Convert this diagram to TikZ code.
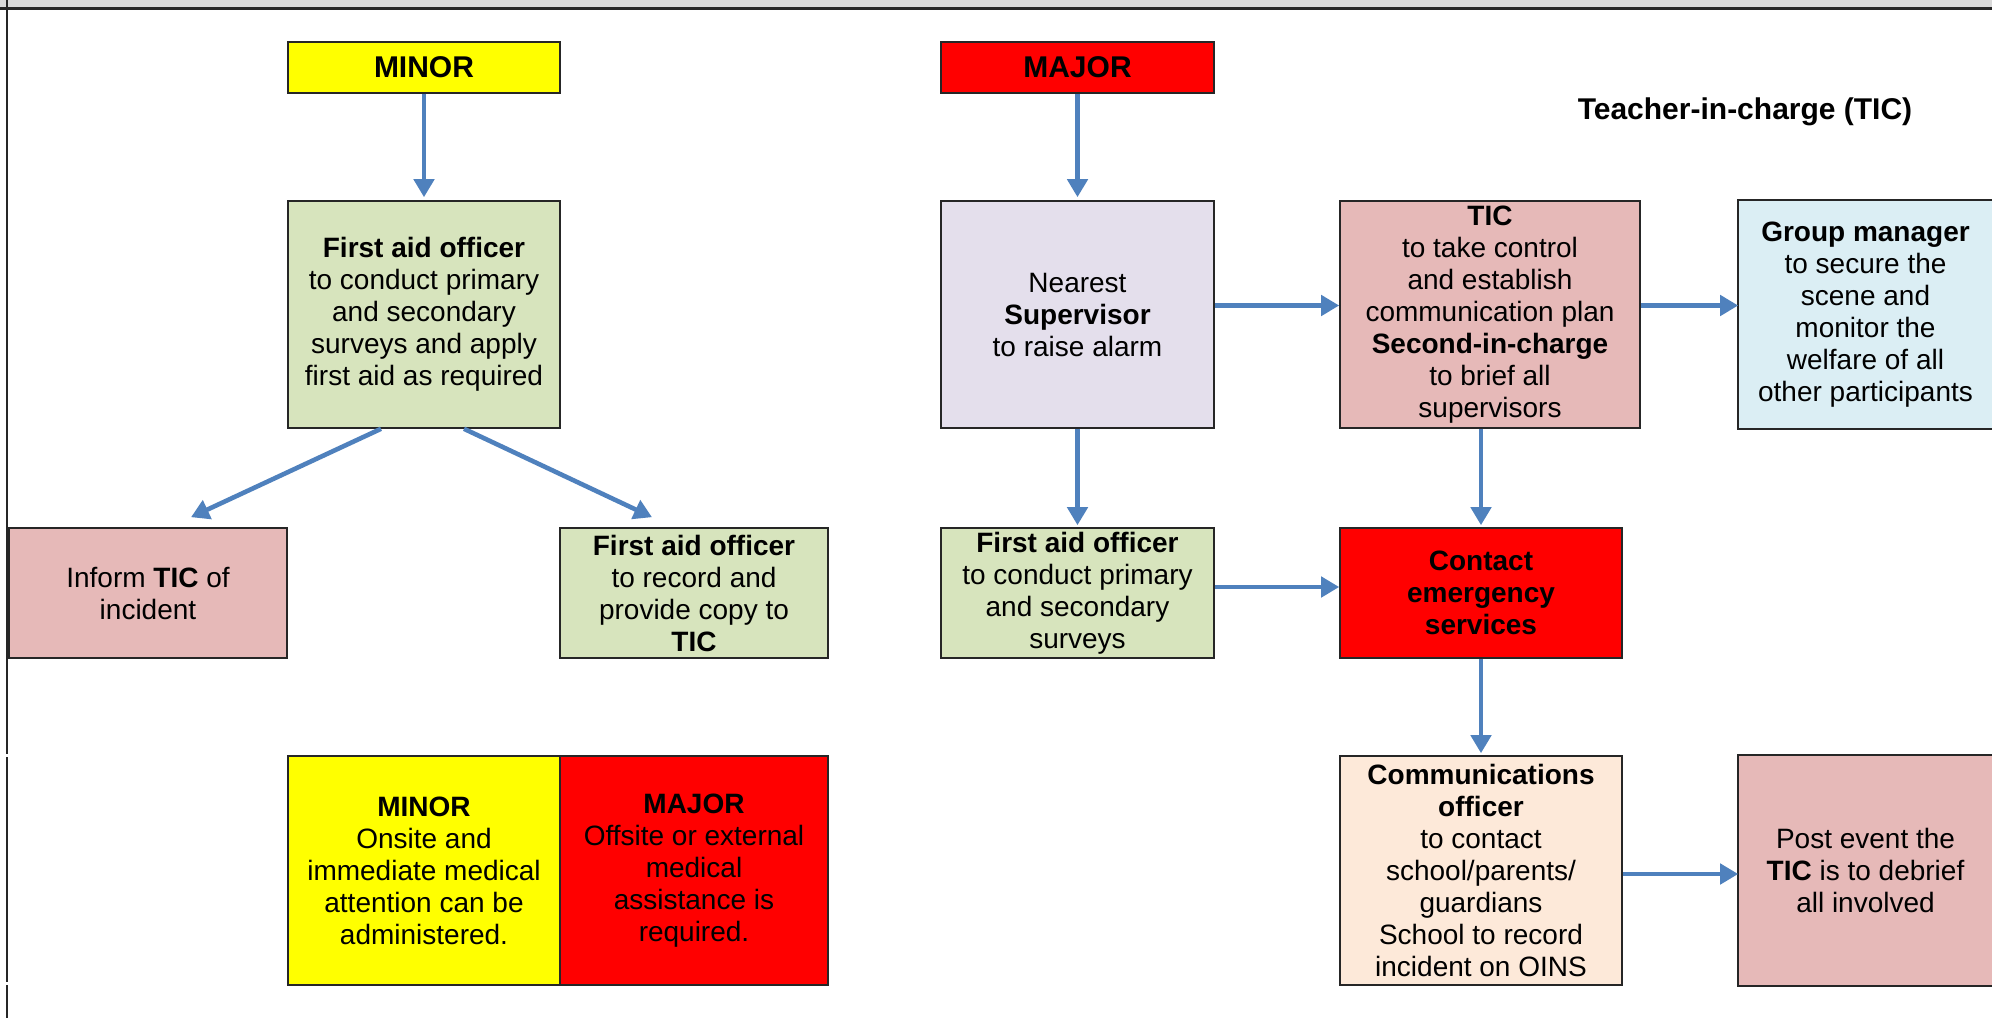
\documentclass[tikz,border=0pt]{standalone}
\usepackage{fontspec}
\setmainfont{Liberation Sans}
\usetikzlibrary{arrows.meta}
\definecolor{cyellow}{HTML}{FFFF00}
\definecolor{cred}{HTML}{FF0000}
\definecolor{cgreen}{HTML}{D7E4BD}
\definecolor{clav}{HTML}{E4DFEC}
\definecolor{cpink}{HTML}{E6B9B8}
\definecolor{cblue}{HTML}{DBEEF4}
\definecolor{cpeach}{HTML}{FDE9D9}
\definecolor{arrowblue}{HTML}{4F81BD}
\definecolor{stripgray}{HTML}{D9D9D9}
\definecolor{edge}{HTML}{262626}
\begin{document}
\begin{tikzpicture}[x=1pt,y=-1pt,
  box/.style={draw=edge, line width=1.6pt, align=center, inner sep=0pt,
    font=\fontsize{28}{32}\selectfont, text=black},
  boxnd/.style={box, draw=none},
  head/.style={font=\bfseries\fontsize{30}{34}\selectfont},
  arr/.style={draw=arrowblue, line width=4.6pt, -{Triangle[length=18pt,width=20pt]}},
  frameline/.style={draw=edge, line width=2pt}
]
\useasboundingbox (0,0) rectangle (1992,1018);
\fill[white] (0,0) rectangle (1992,1018);
% top strip and frame
\fill[stripgray] (0,0) rectangle (1992,7);
\fill[edge] (0,7) rectangle (1992,10);
\draw[frameline] (7,0) -- (7,754);
\draw[frameline] (7,757) -- (7,982);
\draw[frameline] (7,985) -- (7,1018);

% headers
\node[box, head, fill=cyellow, minimum width=272, minimum height=51] (minor) at (424,67.5) {MINOR};
\node[box, head, fill=cred, minimum width=273, minimum height=51] (major) at (1077.5,67.5) {MAJOR};
\node[font=\bfseries\fontsize{30}{34}\selectfont, inner sep=0pt] (title) at (1745,112) {Teacher-in-charge (TIC)};

% row 1
\node[box, fill=cgreen, minimum width=272, minimum height=227] (fa1) at (424,314.5)
  {\textbf{First aid officer}\\to conduct primary\\and secondary\\surveys and apply\\first aid as required};
\node[box, fill=clav, minimum width=273, minimum height=227] (sup) at (1077.5,314.5)
  {Nearest\\\textbf{Supervisor}\\to raise alarm};
\node[box, fill=cpink, minimum width=300, minimum height=227] (tic) at (1490,314.5)
  {\textbf{TIC}\\to take control\\and establish\\communication plan\\\textbf{Second-in-charge}\\to brief all\\supervisors};
\node[boxnd, fill=cblue, minimum width=253, minimum height=227] (grp) at (1865.5,314.5)
  {\textbf{Group manager}\\to secure the\\scene and\\monitor the\\welfare of all\\other participants};
\draw[draw=edge, line width=1.6pt] (grp.north east) -- (grp.north west) -- (grp.south west) -- (grp.south east);

% row 2
\node[box, fill=cpink, minimum width=278, minimum height=130] (inform) at (148,593)
  {Inform \textbf{TIC} of\\incident};
\node[box, fill=cgreen, minimum width=268, minimum height=130] (rec) at (694,593)
  {\textbf{First aid officer}\\to record and\\provide copy to\\\textbf{TIC}};
\node[box, fill=cgreen, minimum width=273, minimum height=130] (fa2) at (1077.5,593)
  {\textbf{First aid officer}\\to conduct primary\\and secondary\\surveys};
\node[box, fill=cred, minimum width=282, minimum height=130] (cont) at (1481,593)
  {\textbf{Contact}\\\textbf{emergency}\\\textbf{services}};

% row 3
\node[box, fill=cyellow, minimum width=272, minimum height=229] (legminor) at (424,870.5)
  {\textbf{MINOR}\\Onsite and\\immediate medical\\attention can be\\administered.};
\node[box, fill=cred, minimum width=268, minimum height=229] (legmajor) at (694,870.5)
  {\textbf{MAJOR}\\Offsite or external\\medical\\assistance is\\required.};
\node[box, fill=cpeach, minimum width=282, minimum height=229] (comm) at (1481,870.5)
  {\textbf{Communications}\\\textbf{officer}\\to contact\\school/parents/\\guardians\\School to record\\incident on OINS};
\node[boxnd, fill=cpink, minimum width=253, minimum height=229] (post) at (1865.5,870.5)
  {Post event the\\\textbf{TIC} is to debrief\\all involved};
\draw[draw=edge, line width=1.6pt] (post.north east) -- (post.north west) -- (post.south west) -- (post.south east);

% connectors
\draw[arr, shorten >=3pt] (minor.south -| fa1.north) -- (fa1.north);
\draw[arr, shorten >=3pt] (major.south) -- (sup.north);
\draw[arr] ([shift={(-43,0)}]fa1.south) -- ([shift={(43,-10)}]inform.north);
\draw[arr] ([shift={(40,0)}]fa1.south) -- ([shift={(-42,-10)}]rec.north);
\draw[arr] ([shift={(0,-9)}]sup.east) -- ([shift={(0,-9)}]tic.west);
\draw[arr] ([shift={(0,-9)}]tic.east) -- ([shift={(0,-9)}]grp.west);
\draw[arr, shorten >=2pt] (sup.south) -- (fa2.north);
\draw[arr, shorten >=2pt] (cont.north |- tic.south) -- (cont.north);
\draw[arr] ([shift={(0,-6)}]fa2.east) -- ([shift={(0,-6)}]cont.west);
\draw[arr, shorten >=2pt] (cont.south) -- (comm.north);
\draw[arr] ([shift={(0,3.5)}]comm.east) -- ([shift={(0,3.5)}]post.west);
\end{tikzpicture}
\end{document}
